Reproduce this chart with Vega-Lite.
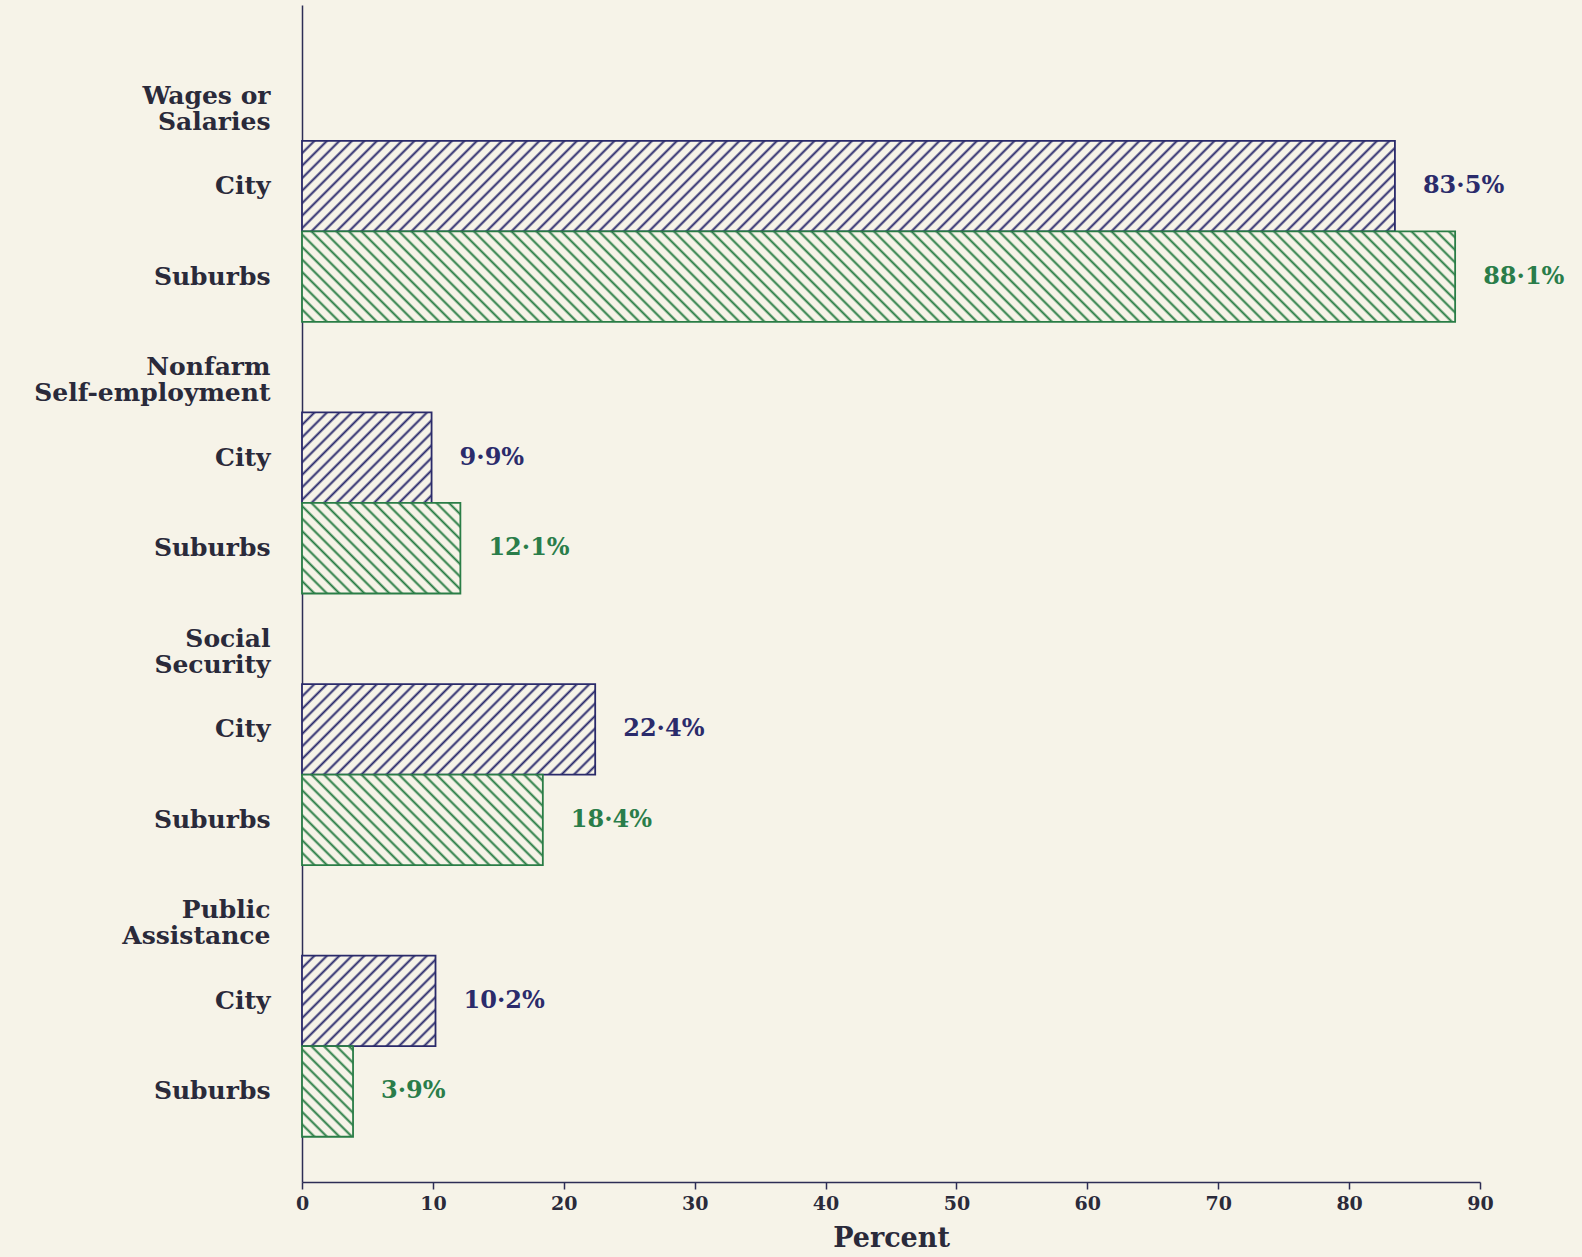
{
  "$schema": "https://vega.github.io/schema/vega-lite/v6.json",
  "width": 1178,
  "height": 1177,
  "autosize": {"type": "none"},
  "padding": {"left": 302, "top": 5, "right": 102, "bottom": 75},
  "background": "#f6f3e8",
  "config": {"view": {"stroke": null}},
  "params": [
    {"name": "hatch", "value": [
      {"offset":0,"color":"#f6f3e8"},
      {"offset":0.0078,"color":"#f6f3e8"},{"offset":0.01,"color":"#f6f3e800"},{"offset":0.0122,"color":"#f6f3e8"},
      {"offset":0.0178,"color":"#f6f3e8"},{"offset":0.02,"color":"#f6f3e800"},{"offset":0.0222,"color":"#f6f3e8"},
      {"offset":0.0278,"color":"#f6f3e8"},{"offset":0.03,"color":"#f6f3e800"},{"offset":0.0322,"color":"#f6f3e8"},
      {"offset":0.0378,"color":"#f6f3e8"},{"offset":0.04,"color":"#f6f3e800"},{"offset":0.0422,"color":"#f6f3e8"},
      {"offset":0.0478,"color":"#f6f3e8"},{"offset":0.05,"color":"#f6f3e800"},{"offset":0.0522,"color":"#f6f3e8"},
      {"offset":0.0578,"color":"#f6f3e8"},{"offset":0.06,"color":"#f6f3e800"},{"offset":0.0622,"color":"#f6f3e8"},
      {"offset":0.0678,"color":"#f6f3e8"},{"offset":0.07,"color":"#f6f3e800"},{"offset":0.0722,"color":"#f6f3e8"},
      {"offset":0.0778,"color":"#f6f3e8"},{"offset":0.08,"color":"#f6f3e800"},{"offset":0.0822,"color":"#f6f3e8"},
      {"offset":0.0878,"color":"#f6f3e8"},{"offset":0.09,"color":"#f6f3e800"},{"offset":0.0922,"color":"#f6f3e8"},
      {"offset":0.0978,"color":"#f6f3e8"},{"offset":0.1,"color":"#f6f3e800"},{"offset":0.1022,"color":"#f6f3e8"},
      {"offset":0.1078,"color":"#f6f3e8"},{"offset":0.11,"color":"#f6f3e800"},{"offset":0.1122,"color":"#f6f3e8"},
      {"offset":0.1178,"color":"#f6f3e8"},{"offset":0.12,"color":"#f6f3e800"},{"offset":0.1222,"color":"#f6f3e8"},
      {"offset":0.1278,"color":"#f6f3e8"},{"offset":0.13,"color":"#f6f3e800"},{"offset":0.1322,"color":"#f6f3e8"},
      {"offset":0.1378,"color":"#f6f3e8"},{"offset":0.14,"color":"#f6f3e800"},{"offset":0.1422,"color":"#f6f3e8"},
      {"offset":0.1478,"color":"#f6f3e8"},{"offset":0.15,"color":"#f6f3e800"},{"offset":0.1522,"color":"#f6f3e8"},
      {"offset":0.1578,"color":"#f6f3e8"},{"offset":0.16,"color":"#f6f3e800"},{"offset":0.1622,"color":"#f6f3e8"},
      {"offset":0.1678,"color":"#f6f3e8"},{"offset":0.17,"color":"#f6f3e800"},{"offset":0.1722,"color":"#f6f3e8"},
      {"offset":0.1778,"color":"#f6f3e8"},{"offset":0.18,"color":"#f6f3e800"},{"offset":0.1822,"color":"#f6f3e8"},
      {"offset":0.1878,"color":"#f6f3e8"},{"offset":0.19,"color":"#f6f3e800"},{"offset":0.1922,"color":"#f6f3e8"},
      {"offset":0.1978,"color":"#f6f3e8"},{"offset":0.2,"color":"#f6f3e800"},{"offset":0.2022,"color":"#f6f3e8"},
      {"offset":0.2078,"color":"#f6f3e8"},{"offset":0.21,"color":"#f6f3e800"},{"offset":0.2122,"color":"#f6f3e8"},
      {"offset":0.2178,"color":"#f6f3e8"},{"offset":0.22,"color":"#f6f3e800"},{"offset":0.2222,"color":"#f6f3e8"},
      {"offset":0.2278,"color":"#f6f3e8"},{"offset":0.23,"color":"#f6f3e800"},{"offset":0.2322,"color":"#f6f3e8"},
      {"offset":0.2378,"color":"#f6f3e8"},{"offset":0.24,"color":"#f6f3e800"},{"offset":0.2422,"color":"#f6f3e8"},
      {"offset":0.2478,"color":"#f6f3e8"},{"offset":0.25,"color":"#f6f3e800"},{"offset":0.2522,"color":"#f6f3e8"},
      {"offset":0.2578,"color":"#f6f3e8"},{"offset":0.26,"color":"#f6f3e800"},{"offset":0.2622,"color":"#f6f3e8"},
      {"offset":0.2678,"color":"#f6f3e8"},{"offset":0.27,"color":"#f6f3e800"},{"offset":0.2722,"color":"#f6f3e8"},
      {"offset":0.2778,"color":"#f6f3e8"},{"offset":0.28,"color":"#f6f3e800"},{"offset":0.2822,"color":"#f6f3e8"},
      {"offset":0.2878,"color":"#f6f3e8"},{"offset":0.29,"color":"#f6f3e800"},{"offset":0.2922,"color":"#f6f3e8"},
      {"offset":0.2978,"color":"#f6f3e8"},{"offset":0.3,"color":"#f6f3e800"},{"offset":0.3022,"color":"#f6f3e8"},
      {"offset":0.3078,"color":"#f6f3e8"},{"offset":0.31,"color":"#f6f3e800"},{"offset":0.3122,"color":"#f6f3e8"},
      {"offset":0.3178,"color":"#f6f3e8"},{"offset":0.32,"color":"#f6f3e800"},{"offset":0.3222,"color":"#f6f3e8"},
      {"offset":0.3278,"color":"#f6f3e8"},{"offset":0.33,"color":"#f6f3e800"},{"offset":0.3322,"color":"#f6f3e8"},
      {"offset":0.3378,"color":"#f6f3e8"},{"offset":0.34,"color":"#f6f3e800"},{"offset":0.3422,"color":"#f6f3e8"},
      {"offset":0.3478,"color":"#f6f3e8"},{"offset":0.35,"color":"#f6f3e800"},{"offset":0.3522,"color":"#f6f3e8"},
      {"offset":0.3578,"color":"#f6f3e8"},{"offset":0.36,"color":"#f6f3e800"},{"offset":0.3622,"color":"#f6f3e8"},
      {"offset":0.3678,"color":"#f6f3e8"},{"offset":0.37,"color":"#f6f3e800"},{"offset":0.3722,"color":"#f6f3e8"},
      {"offset":0.3778,"color":"#f6f3e8"},{"offset":0.38,"color":"#f6f3e800"},{"offset":0.3822,"color":"#f6f3e8"},
      {"offset":0.3878,"color":"#f6f3e8"},{"offset":0.39,"color":"#f6f3e800"},{"offset":0.3922,"color":"#f6f3e8"},
      {"offset":0.3978,"color":"#f6f3e8"},{"offset":0.4,"color":"#f6f3e800"},{"offset":0.4022,"color":"#f6f3e8"},
      {"offset":0.4078,"color":"#f6f3e8"},{"offset":0.41,"color":"#f6f3e800"},{"offset":0.4122,"color":"#f6f3e8"},
      {"offset":0.4178,"color":"#f6f3e8"},{"offset":0.42,"color":"#f6f3e800"},{"offset":0.4222,"color":"#f6f3e8"},
      {"offset":0.4278,"color":"#f6f3e8"},{"offset":0.43,"color":"#f6f3e800"},{"offset":0.4322,"color":"#f6f3e8"},
      {"offset":0.4378,"color":"#f6f3e8"},{"offset":0.44,"color":"#f6f3e800"},{"offset":0.4422,"color":"#f6f3e8"},
      {"offset":0.4478,"color":"#f6f3e8"},{"offset":0.45,"color":"#f6f3e800"},{"offset":0.4522,"color":"#f6f3e8"},
      {"offset":0.4578,"color":"#f6f3e8"},{"offset":0.46,"color":"#f6f3e800"},{"offset":0.4622,"color":"#f6f3e8"},
      {"offset":0.4678,"color":"#f6f3e8"},{"offset":0.47,"color":"#f6f3e800"},{"offset":0.4722,"color":"#f6f3e8"},
      {"offset":0.4778,"color":"#f6f3e8"},{"offset":0.48,"color":"#f6f3e800"},{"offset":0.4822,"color":"#f6f3e8"},
      {"offset":0.4878,"color":"#f6f3e8"},{"offset":0.49,"color":"#f6f3e800"},{"offset":0.4922,"color":"#f6f3e8"},
      {"offset":0.4978,"color":"#f6f3e8"},{"offset":0.5,"color":"#f6f3e800"},{"offset":0.5022,"color":"#f6f3e8"},
      {"offset":0.5078,"color":"#f6f3e8"},{"offset":0.51,"color":"#f6f3e800"},{"offset":0.5122,"color":"#f6f3e8"},
      {"offset":0.5178,"color":"#f6f3e8"},{"offset":0.52,"color":"#f6f3e800"},{"offset":0.5222,"color":"#f6f3e8"},
      {"offset":0.5278,"color":"#f6f3e8"},{"offset":0.53,"color":"#f6f3e800"},{"offset":0.5322,"color":"#f6f3e8"},
      {"offset":0.5378,"color":"#f6f3e8"},{"offset":0.54,"color":"#f6f3e800"},{"offset":0.5422,"color":"#f6f3e8"},
      {"offset":0.5478,"color":"#f6f3e8"},{"offset":0.55,"color":"#f6f3e800"},{"offset":0.5522,"color":"#f6f3e8"},
      {"offset":0.5578,"color":"#f6f3e8"},{"offset":0.56,"color":"#f6f3e800"},{"offset":0.5622,"color":"#f6f3e8"},
      {"offset":0.5678,"color":"#f6f3e8"},{"offset":0.57,"color":"#f6f3e800"},{"offset":0.5722,"color":"#f6f3e8"},
      {"offset":0.5778,"color":"#f6f3e8"},{"offset":0.58,"color":"#f6f3e800"},{"offset":0.5822,"color":"#f6f3e8"},
      {"offset":0.5878,"color":"#f6f3e8"},{"offset":0.59,"color":"#f6f3e800"},{"offset":0.5922,"color":"#f6f3e8"},
      {"offset":0.5978,"color":"#f6f3e8"},{"offset":0.6,"color":"#f6f3e800"},{"offset":0.6022,"color":"#f6f3e8"},
      {"offset":0.6078,"color":"#f6f3e8"},{"offset":0.61,"color":"#f6f3e800"},{"offset":0.6122,"color":"#f6f3e8"},
      {"offset":0.6178,"color":"#f6f3e8"},{"offset":0.62,"color":"#f6f3e800"},{"offset":0.6222,"color":"#f6f3e8"},
      {"offset":0.6278,"color":"#f6f3e8"},{"offset":0.63,"color":"#f6f3e800"},{"offset":0.6322,"color":"#f6f3e8"},
      {"offset":0.6378,"color":"#f6f3e8"},{"offset":0.64,"color":"#f6f3e800"},{"offset":0.6422,"color":"#f6f3e8"},
      {"offset":0.6478,"color":"#f6f3e8"},{"offset":0.65,"color":"#f6f3e800"},{"offset":0.6522,"color":"#f6f3e8"},
      {"offset":0.6578,"color":"#f6f3e8"},{"offset":0.66,"color":"#f6f3e800"},{"offset":0.6622,"color":"#f6f3e8"},
      {"offset":0.6678,"color":"#f6f3e8"},{"offset":0.67,"color":"#f6f3e800"},{"offset":0.6722,"color":"#f6f3e8"},
      {"offset":0.6778,"color":"#f6f3e8"},{"offset":0.68,"color":"#f6f3e800"},{"offset":0.6822,"color":"#f6f3e8"},
      {"offset":0.6878,"color":"#f6f3e8"},{"offset":0.69,"color":"#f6f3e800"},{"offset":0.6922,"color":"#f6f3e8"},
      {"offset":0.6978,"color":"#f6f3e8"},{"offset":0.7,"color":"#f6f3e800"},{"offset":0.7022,"color":"#f6f3e8"},
      {"offset":0.7078,"color":"#f6f3e8"},{"offset":0.71,"color":"#f6f3e800"},{"offset":0.7122,"color":"#f6f3e8"},
      {"offset":0.7178,"color":"#f6f3e8"},{"offset":0.72,"color":"#f6f3e800"},{"offset":0.7222,"color":"#f6f3e8"},
      {"offset":0.7278,"color":"#f6f3e8"},{"offset":0.73,"color":"#f6f3e800"},{"offset":0.7322,"color":"#f6f3e8"},
      {"offset":0.7378,"color":"#f6f3e8"},{"offset":0.74,"color":"#f6f3e800"},{"offset":0.7422,"color":"#f6f3e8"},
      {"offset":0.7478,"color":"#f6f3e8"},{"offset":0.75,"color":"#f6f3e800"},{"offset":0.7522,"color":"#f6f3e8"},
      {"offset":0.7578,"color":"#f6f3e8"},{"offset":0.76,"color":"#f6f3e800"},{"offset":0.7622,"color":"#f6f3e8"},
      {"offset":0.7678,"color":"#f6f3e8"},{"offset":0.77,"color":"#f6f3e800"},{"offset":0.7722,"color":"#f6f3e8"},
      {"offset":0.7778,"color":"#f6f3e8"},{"offset":0.78,"color":"#f6f3e800"},{"offset":0.7822,"color":"#f6f3e8"},
      {"offset":0.7878,"color":"#f6f3e8"},{"offset":0.79,"color":"#f6f3e800"},{"offset":0.7922,"color":"#f6f3e8"},
      {"offset":0.7978,"color":"#f6f3e8"},{"offset":0.8,"color":"#f6f3e800"},{"offset":0.8022,"color":"#f6f3e8"},
      {"offset":0.8078,"color":"#f6f3e8"},{"offset":0.81,"color":"#f6f3e800"},{"offset":0.8122,"color":"#f6f3e8"},
      {"offset":0.8178,"color":"#f6f3e8"},{"offset":0.82,"color":"#f6f3e800"},{"offset":0.8222,"color":"#f6f3e8"},
      {"offset":0.8278,"color":"#f6f3e8"},{"offset":0.83,"color":"#f6f3e800"},{"offset":0.8322,"color":"#f6f3e8"},
      {"offset":0.8378,"color":"#f6f3e8"},{"offset":0.84,"color":"#f6f3e800"},{"offset":0.8422,"color":"#f6f3e8"},
      {"offset":0.8478,"color":"#f6f3e8"},{"offset":0.85,"color":"#f6f3e800"},{"offset":0.8522,"color":"#f6f3e8"},
      {"offset":0.8578,"color":"#f6f3e8"},{"offset":0.86,"color":"#f6f3e800"},{"offset":0.8622,"color":"#f6f3e8"},
      {"offset":0.8678,"color":"#f6f3e8"},{"offset":0.87,"color":"#f6f3e800"},{"offset":0.8722,"color":"#f6f3e8"},
      {"offset":0.8778,"color":"#f6f3e8"},{"offset":0.88,"color":"#f6f3e800"},{"offset":0.8822,"color":"#f6f3e8"},
      {"offset":0.8878,"color":"#f6f3e8"},{"offset":0.89,"color":"#f6f3e800"},{"offset":0.8922,"color":"#f6f3e8"},
      {"offset":0.8978,"color":"#f6f3e8"},{"offset":0.9,"color":"#f6f3e800"},{"offset":0.9022,"color":"#f6f3e8"},
      {"offset":0.9078,"color":"#f6f3e8"},{"offset":0.91,"color":"#f6f3e800"},{"offset":0.9122,"color":"#f6f3e8"},
      {"offset":0.9178,"color":"#f6f3e8"},{"offset":0.92,"color":"#f6f3e800"},{"offset":0.9222,"color":"#f6f3e8"},
      {"offset":0.9278,"color":"#f6f3e8"},{"offset":0.93,"color":"#f6f3e800"},{"offset":0.9322,"color":"#f6f3e8"},
      {"offset":0.9378,"color":"#f6f3e8"},{"offset":0.94,"color":"#f6f3e800"},{"offset":0.9422,"color":"#f6f3e8"},
      {"offset":0.9478,"color":"#f6f3e8"},{"offset":0.95,"color":"#f6f3e800"},{"offset":0.9522,"color":"#f6f3e8"},
      {"offset":0.9578,"color":"#f6f3e8"},{"offset":0.96,"color":"#f6f3e800"},{"offset":0.9622,"color":"#f6f3e8"},
      {"offset":0.9678,"color":"#f6f3e8"},{"offset":0.97,"color":"#f6f3e800"},{"offset":0.9722,"color":"#f6f3e8"},
      {"offset":0.9778,"color":"#f6f3e8"},{"offset":0.98,"color":"#f6f3e800"},{"offset":0.9822,"color":"#f6f3e8"},
      {"offset":0.9878,"color":"#f6f3e8"},{"offset":0.99,"color":"#f6f3e800"},{"offset":0.9922,"color":"#f6f3e8"},
      {"offset":1,"color":"#f6f3e8"}
    ]}
  ],
  "data": {
    "values": [
      {"row": "ws_c", "group": "Wages or Salaries", "loc": "City", "value": 83.5, "label": "83·5%"},
      {"row": "ws_s", "group": "Wages or Salaries", "loc": "Suburbs", "value": 88.1, "label": "88·1%"},
      {"row": "nf_c", "group": "Nonfarm Self-employment", "loc": "City", "value": 9.9, "label": "9·9%"},
      {"row": "nf_s", "group": "Nonfarm Self-employment", "loc": "Suburbs", "value": 12.1, "label": "12·1%"},
      {"row": "ss_c", "group": "Social Security", "loc": "City", "value": 22.4, "label": "22·4%"},
      {"row": "ss_s", "group": "Social Security", "loc": "Suburbs", "value": 18.4, "label": "18·4%"},
      {"row": "pa_c", "group": "Public Assistance", "loc": "City", "value": 10.2, "label": "10·2%"},
      {"row": "pa_s", "group": "Public Assistance", "loc": "Suburbs", "value": 3.9, "label": "3·9%"}
    ]
  },
  "encoding": {
    "y": {
      "field": "row",
      "type": "nominal",
      "title": null,
      "scale": {
        "domain": ["h1", "ws_c", "ws_s", "h2", "nf_c", "nf_s", "h3", "ss_c", "ss_s", "h4", "pa_c", "pa_s"],
        "paddingInner": 0,
        "paddingOuter": 0.5
      },
      "axis": {
        "labelExpr": "datum.value === 'h1' ? ['Wages or', 'Salaries'] : datum.value === 'h2' ? ['Nonfarm', 'Self-employment'] : datum.value === 'h3' ? ['Social', 'Security'] : datum.value === 'h4' ? ['Public', 'Assistance'] : (indexof(datum.value, '_c') > 0 ? 'City' : 'Suburbs')",
        "labelFont": "DejaVu Serif",
        "labelFontSize": 25,
        "labelFontWeight": "bold",
        "labelColor": "#2a2a3a",
        "labelLineHeight": 26,
        "labelPadding": 32,
        "labelLimit": 400,
        "labelBaseline": "middle",
        "ticks": false,
        "grid": false,
        "domainColor": "#2d2d55",
        "domainWidth": 1.5
      }
    },
    "x": {
      "field": "value",
      "type": "quantitative",
      "scale": {"domain": [0, 90], "nice": false},
      "axis": {
        "values": [0, 10, 20, 30, 40, 50, 60, 70, 80, 90],
        "title": "Percent",
        "titleFont": "DejaVu Serif",
        "titleFontSize": 27,
        "titleFontWeight": "bold",
        "titleColor": "#2a2a3a",
        "titlePadding": 12,
        "labelFont": "DejaVu Serif",
        "labelFontSize": 19,
        "labelFontWeight": "bold",
        "labelColor": "#2a2a3a",
        "labelPadding": 5,
        "labelFlush": false,
        "tickColor": "#2d2d55",
        "tickSize": 7,
        "tickWidth": 1.5,
        "grid": false,
        "domainColor": "#2d2d55",
        "domainWidth": 1.5
      }
    }
  },
  "layer": [
    {
      "mark": {"type": "bar"},
      "encoding": {
        "fill": {
          "field": "loc",
          "type": "nominal",
          "scale": {"domain": ["City", "Suburbs"], "range": ["#26266a", "#237a40"]},
          "legend": null
        }
      }
    },
    {
      "mark": {
        "type": "bar",
        "strokeWidth": 1.8,
        "fill": {"expr": "{gradient: 'linear', x1: 0, y1: datum.loc === 'City' ? 0 : 1, x2: 1250 * (scale('x', datum.value) - scale('x', 0)) / (pow(scale('x', datum.value) - scale('x', 0), 2) + pow(bandwidth('y'), 2)), y2: datum.loc === 'City' ? 1250 * bandwidth('y') / (pow(scale('x', datum.value) - scale('x', 0), 2) + pow(bandwidth('y'), 2)) : 1 - 1250 * bandwidth('y') / (pow(scale('x', datum.value) - scale('x', 0), 2) + pow(bandwidth('y'), 2)), stops: hatch}"}
      },
      "encoding": {
        "stroke": {
          "field": "loc",
          "type": "nominal",
          "scale": {"domain": ["City", "Suburbs"], "range": ["#2a2a6a", "#2a7d46"]},
          "legend": null
        }
      }
    },
    {
      "mark": {
        "type": "text",
        "align": "left",
        "baseline": "middle",
        "dx": 28,
        "font": "DejaVu Serif",
        "fontSize": 24,
        "fontWeight": "bold"
      },
      "encoding": {
        "text": {"field": "label", "type": "nominal"},
        "color": {
          "field": "loc",
          "type": "nominal",
          "scale": {"domain": ["City", "Suburbs"], "range": ["#2b2b6b", "#2a7d4a"]},
          "legend": null
        }
      }
    }
  ]
}
